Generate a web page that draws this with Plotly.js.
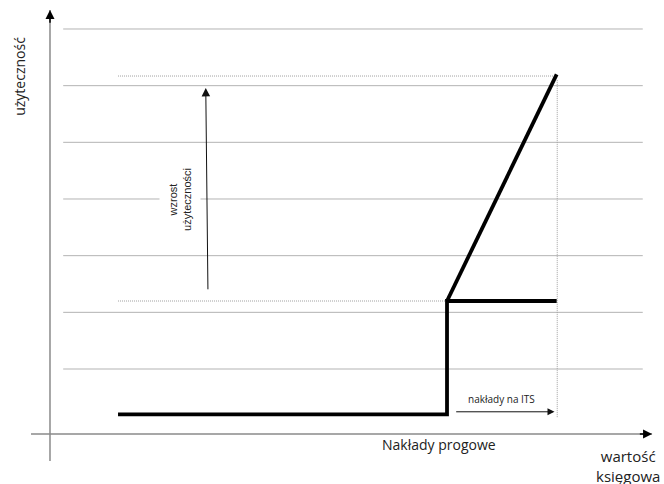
<!DOCTYPE html>
<html>
<head>
<meta charset="utf-8">
<script src="https://cdn.plot.ly/plotly-3.0.1.min.js"></script>
<style>html,body{margin:0;padding:0;background:#fff}#chart{width:664px;height:484px}</style>
</head>
<body>
<div id="chart"></div>
<script>
// ---- data (conceptual units) ----
const gridLevels = [1, 2, 3, 4, 5, 6, 7];
const gridSpanX = [0, 10.57];
const stepX = [1, 7, 7, 9];
const stepY = [0.2, 0.2, 2.2, 2.2];
const riseX = [7, 9];
const riseY = [2.2, 6.2];
const refHighX = [1, 9];
const refHighY = [6.17, 6.17];
const refMidX = [1, 7];
const refMidY = [2.2, 2.2];
const refVertX = [9.01, 9.01];
const refVertY = [0.15, 6.1];
const xAxisX = [-0.587, 10.74];
const xAxisY = [-0.147, -0.147];
const yAxisX = [-0.241, -0.241];
const yAxisY = [-0.623, 7.335];
const growthArrow = {x0: 2.64, y0: 2.38, x1: 2.60, y1: 5.96};
const itsArrow = {x0: 7.14, y0: 0.245, x1: 8.96, y1: 0.245};

const labels = {
  yTitle: 'użyteczność',
  xTitle: 'wartość<br>księgowa',
  threshold: 'Nakłady progowe',
  its: 'nakłady na ITS',
  growth: 'wzrost<br>użyteczności'
};

// build grid trace
const gx = [], gy = [];
gridLevels.forEach(v => { gx.push(gridSpanX[0], gridSpanX[1], null); gy.push(v, v, null); });

const dotLine = {color: '#a0a0a0', width: 1, dash: '1px,1px'};
const traces = [
  {x: gx, y: gy, mode: 'lines', line: {color: '#b3b3b3', width: 1}},
  {x: refHighX, y: refHighY, mode: 'lines', line: dotLine},
  {x: refMidX, y: refMidY, mode: 'lines', line: dotLine},
  {x: refVertX, y: refVertY, mode: 'lines', line: dotLine},
  {x: xAxisX, y: xAxisY, mode: 'lines', line: {color: '#8a8a8a', width: 1.5}},
  {x: yAxisX, y: yAxisY, mode: 'lines', line: {color: '#8a8a8a', width: 1.5}},
  {x: stepX, y: stepY, mode: 'lines', line: {color: '#000', width: 3.8}},
  {x: riseX, y: riseY, mode: 'lines', line: {color: '#000', width: 3.8}}
];

const fontA = 'Open Sans, Lato, sans-serif';
const annotations = [
  // axis arrowheads
  {x: xAxisX[1], y: xAxisY[1], ax: xAxisX[1] - 0.25, ay: xAxisY[1], axref: 'x', ayref: 'y', xref: 'x', yref: 'y',
   text: '', showarrow: true, arrowhead: 2, arrowsize: 1.2, arrowwidth: 1.5, arrowcolor: '#000'},
  {x: yAxisX[1], y: yAxisY[1], ax: yAxisX[1], ay: yAxisY[1] - 0.25, axref: 'x', ayref: 'y', xref: 'x', yref: 'y',
   text: '', showarrow: true, arrowhead: 2, arrowsize: 1.2, arrowwidth: 1.5, arrowcolor: '#000'},
  // growth arrow
  {x: growthArrow.x1, y: growthArrow.y1, ax: growthArrow.x0, ay: growthArrow.y0, axref: 'x', ayref: 'y', xref: 'x', yref: 'y',
   text: '', showarrow: true, arrowhead: 2, arrowsize: 1.7, arrowwidth: 1, arrowcolor: '#111'},
  // ITS arrow
  {x: itsArrow.x1, y: itsArrow.y1, ax: itsArrow.x0, ay: itsArrow.y0, axref: 'x', ayref: 'y', xref: 'x', yref: 'y',
   text: '', showarrow: true, arrowhead: 2, arrowsize: 1.4, arrowwidth: 1, arrowcolor: '#111'},
  // texts
  {x: 2.13, y: 4.0, xref: 'x', yref: 'y', text: labels.growth, showarrow: false, textangle: -90,
   font: {family: 'Liberation Sans, Arial, sans-serif', size: 11, color: '#222'}, bgcolor: '#fff', borderpad: 7},
  {x: 8.0, y: 0.47, xref: 'x', yref: 'y', text: labels.its, showarrow: false,
   font: {family: fontA, size: 10, color: '#222'}},
  {x: 6.85, y: -0.34, xref: 'x', yref: 'y', text: labels.threshold, showarrow: false,
   font: {family: fontA, size: 14, color: '#222'}},
  {x: 10.30, y: -0.72, xref: 'x', yref: 'y', text: labels.xTitle, showarrow: false, align: 'center',
   font: {family: fontA, size: 15, color: '#222'}},
  {x: -0.81, y: 6.17, xref: 'x', yref: 'y', text: labels.yTitle, showarrow: false, textangle: -90,
   font: {family: fontA, size: 14, color: '#222'}}
];

const layout = {
  width: 664, height: 484,
  margin: {l: 0, r: 0, t: 0, b: 0},
  paper_bgcolor: '#fff', plot_bgcolor: '#fff',
  showlegend: false, hovermode: false,
  xaxis: {visible: false, range: [-1.1527, 10.9575], fixedrange: true},
  yaxis: {visible: false, range: [-1.0293, 7.5115], fixedrange: true},
  annotations: annotations
};

Plotly.newPlot('chart', traces, layout, {displayModeBar: false, staticPlot: true});
</script>
</body>
</html>
